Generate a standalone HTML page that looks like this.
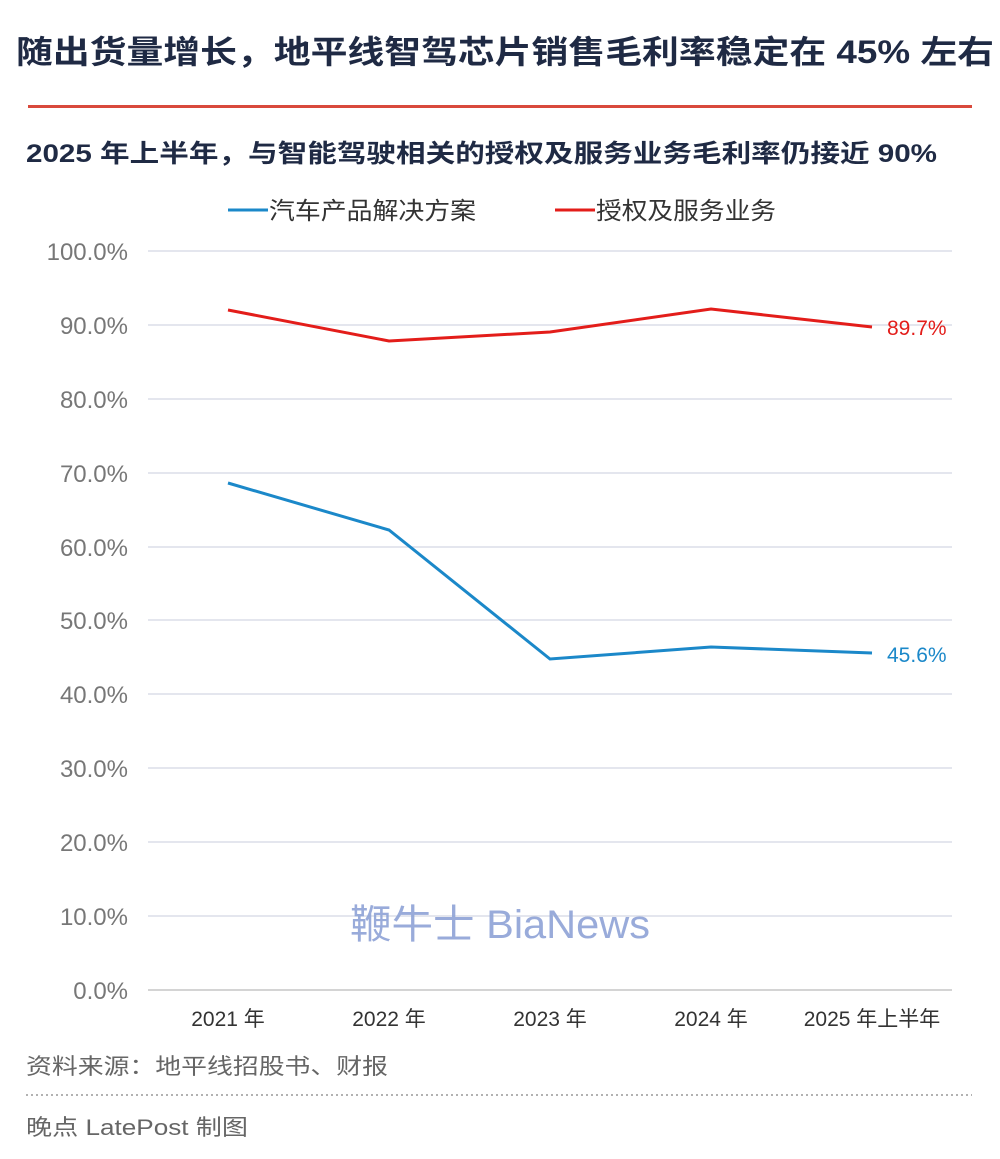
<!DOCTYPE html>
<html><head><meta charset="utf-8"><style>
body{margin:0;background:#fff;}
svg text{font-family:"Liberation Sans","Noto Sans CJK SC",sans-serif;}
</style></head><body>
<svg width="1000" height="1154" xmlns="http://www.w3.org/2000/svg">
<rect width="1000" height="1154" fill="#fff"/>
<text x="16" y="63" font-size="32" font-weight="bold" fill="#1f2a44" textLength="978" lengthAdjust="spacingAndGlyphs">随出货量增长，地平线智驾芯片销售毛利率稳定在 45% 左右</text>
<rect x="28" y="105" width="944" height="3" fill="#d9493c"/>
<text x="26" y="162" font-size="25" font-weight="bold" fill="#1f2a44" textLength="911" lengthAdjust="spacingAndGlyphs">2025 年上半年，与智能驾驶相关的授权及服务业务毛利率仍接近 90%</text>
<line x1="228" y1="210" x2="268" y2="210" stroke="#1b88c9" stroke-width="3"/>
<text x="269" y="219" font-size="24" fill="#333" textLength="207" lengthAdjust="spacingAndGlyphs">汽车产品解决方案</text>
<line x1="555" y1="210" x2="595" y2="210" stroke="#e31d1a" stroke-width="3"/>
<text x="596" y="219" font-size="24" fill="#333" textLength="180" lengthAdjust="spacingAndGlyphs">授权及服务业务</text>
<g stroke="#d4d7e3" stroke-width="1.2">
<line x1="148" y1="251" x2="952" y2="251"/><line x1="148" y1="325" x2="952" y2="325"/>
<line x1="148" y1="399" x2="952" y2="399"/><line x1="148" y1="473" x2="952" y2="473"/>
<line x1="148" y1="547" x2="952" y2="547"/><line x1="148" y1="620" x2="952" y2="620"/>
<line x1="148" y1="694" x2="952" y2="694"/><line x1="148" y1="768" x2="952" y2="768"/>
<line x1="148" y1="842" x2="952" y2="842"/><line x1="148" y1="916" x2="952" y2="916"/>
<line x1="148" y1="990" x2="952" y2="990" stroke="#bbb"/>
</g>
<g font-size="24" fill="#777" text-anchor="end">
<text x="128" y="260">100.0%</text><text x="128" y="334">90.0%</text>
<text x="128" y="408">80.0%</text><text x="128" y="482">70.0%</text>
<text x="128" y="556">60.0%</text><text x="128" y="629">50.0%</text>
<text x="128" y="703">40.0%</text><text x="128" y="777">30.0%</text>
<text x="128" y="851">20.0%</text><text x="128" y="925">10.0%</text>
<text x="128" y="999">0.0%</text>
</g>
<g font-size="21" fill="#333" text-anchor="middle">
<text x="228" y="1026">2021 年</text><text x="389" y="1026">2022 年</text>
<text x="550" y="1026">2023 年</text><text x="711" y="1026">2024 年</text>
<text x="872" y="1026">2025 年上半年</text>
</g>
<text x="350" y="938" font-size="40" fill="#8fa3d6" font-family="Liberation Serif,Noto Serif CJK SC,serif" textLength="300" lengthAdjust="spacingAndGlyphs" opacity="0.9">鞭牛士 BiaNews</text>
<polyline points="228,310 389,341 550,332 711,309 872,327" fill="none" stroke="#e31d1a" stroke-width="3"/>
<polyline points="228,483 389,530 550,659 711,647 872,653" fill="none" stroke="#1b88c9" stroke-width="3"/>
<text x="887" y="335" font-size="21" fill="#e31d1a">89.7%</text>
<text x="887" y="662" font-size="21" fill="#1b88c9">45.6%</text>
<text x="26" y="1074" font-size="22" fill="#666" textLength="362" lengthAdjust="spacingAndGlyphs">资料来源：地平线招股书、财报</text>
<line x1="26" y1="1095" x2="972" y2="1095" stroke="#999" stroke-width="1.5" stroke-dasharray="2,3"/>
<text x="26" y="1135" font-size="22" fill="#666" textLength="222" lengthAdjust="spacingAndGlyphs">晚点 LatePost 制图</text>
</svg>
</body></html>
